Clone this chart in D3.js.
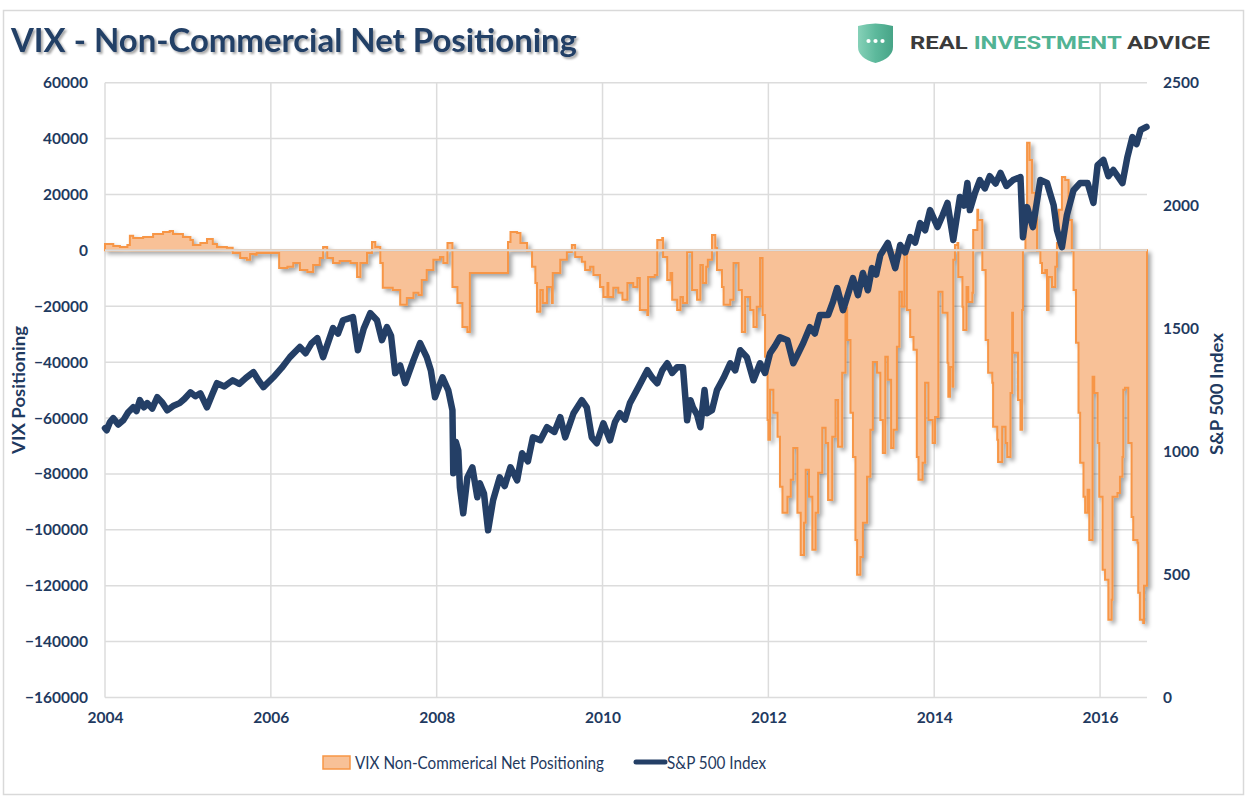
<!DOCTYPE html>
<html><head><meta charset="utf-8">
<script src="https://cdn.jsdelivr.net/npm/d3@7"></script>
<style>
html,body{margin:0;padding:0;background:#fff;}
svg{display:block;}
</style></head>
<body>
<svg id="chart" width="1257" height="802"></svg>
<script>
// ---------- DATA ----------
const yearTicks = [2004, 2006, 2008, 2010, 2012, 2014, 2016];
const leftTicks = [60000, 40000, 20000, 0, -20000, -40000, -60000, -80000, -100000, -120000, -140000, -160000];
const rightTicks = [0, 500, 1000, 1500, 2000, 2500];

const vixDates = [2004.00,2004.10,2004.18,2004.27,2004.30,2004.34,2004.46,2004.58,2004.70,2004.78,2004.82,2004.94,2005.03,2005.06,2005.15,2005.23,2005.30,2005.35,2005.47,2005.54,2005.63,2005.71,2005.75,2005.81,2005.83,2006.07,2006.10,2006.20,2006.27,2006.35,2006.44,2006.51,2006.59,2006.63,2006.68,2006.75,2006.83,2006.96,2007.04,2007.08,2007.16,2007.22,2007.26,2007.32,2007.35,2007.47,2007.56,2007.64,2007.72,2007.78,2007.82,2007.88,2007.96,2008.04,2008.08,2008.13,2008.15,2008.19,2008.25,2008.31,2008.37,2008.40,2008.85,2008.86,2008.89,2008.97,2009.01,2009.09,2009.15,2009.19,2009.21,2009.25,2009.28,2009.33,2009.39,2009.40,2009.49,2009.57,2009.63,2009.67,2009.75,2009.79,2009.85,2009.89,2009.97,2010.01,2010.06,2010.07,2010.13,2010.19,2010.24,2010.30,2010.37,2010.42,2010.45,2010.54,2010.55,2010.63,2010.66,2010.72,2010.73,2010.78,2010.82,2010.84,2010.90,2010.94,2010.97,2011.02,2011.06,2011.08,2011.14,2011.18,2011.21,2011.25,2011.27,2011.32,2011.36,2011.38,2011.44,2011.46,2011.54,2011.58,2011.64,2011.68,2011.72,2011.78,2011.82,2011.86,2011.90,2011.93,2011.96,2011.99,2012.00,2012.02,2012.06,2012.11,2012.14,2012.17,2012.23,2012.27,2012.30,2012.35,2012.39,2012.43,2012.45,2012.49,2012.53,2012.57,2012.60,2012.65,2012.69,2012.72,2012.77,2012.81,2012.84,2012.89,2012.93,2012.95,2012.99,2013.02,2013.05,2013.07,2013.11,2013.14,2013.19,2013.23,2013.26,2013.31,2013.35,2013.38,2013.41,2013.44,2013.48,2013.51,2013.55,2013.58,2013.61,2013.64,2013.67,2013.71,2013.75,2013.79,2013.81,2013.86,2013.89,2013.93,2013.98,2014.01,2014.05,2014.10,2014.16,2014.17,2014.19,2014.22,2014.23,2014.25,2014.28,2014.29,2014.34,2014.35,2014.39,2014.41,2014.46,2014.47,2014.52,2014.53,2014.58,2014.62,2014.65,2014.70,2014.71,2014.76,2014.77,2014.82,2014.86,2014.88,2014.92,2014.94,2014.95,2015.01,2015.04,2015.06,2015.07,2015.10,2015.12,2015.15,2015.18,2015.22,2015.24,2015.28,2015.30,2015.34,2015.36,2015.38,2015.42,2015.46,2015.48,2015.50,2015.54,2015.58,2015.62,2015.66,2015.68,2015.71,2015.74,2015.76,2015.80,2015.82,2015.85,2015.87,2015.91,2015.93,2015.97,2015.99,2016.03,2016.06,2016.10,2016.14,2016.15,2016.21,2016.24,2016.27,2016.28,2016.30,2016.34,2016.38,2016.40,2016.45,2016.46,2016.48,2016.52,2016.53,2016.566];
const vixValues = [2300,1600,1200,1900,5200,4400,4800,5900,6600,6900,5900,4800,3700,1900,2600,4100,2300,1200,900,-900,-2700,-3400,-1300,-1600,-900,-900,-6300,-5900,-4500,-7000,-7700,-5200,-2700,1200,-2700,-4500,-3800,-4500,-9500,-4500,-900,3000,1200,-4500,-13400,-14200,-19500,-17000,-15200,-16000,-10600,-7000,-3400,-2400,-4500,2600,2600,-13100,-18800,-27400,-29200,-8100,-8100,3000,6600,6200,2600,-100,-5900,-11700,-22000,-14200,-18800,-13100,-18800,-8100,-3400,-600,1900,-2400,-4100,-7000,-5900,-8800,-13100,-16700,-11700,-16700,-13400,-15200,-17700,-11700,-13100,-9900,-21300,-23100,-9500,-8800,3700,4400,-2400,-10600,-8100,-17700,-21300,-16700,-18800,-600,-600,-14200,-17700,-5200,-11700,-5900,-3400,5500,900,-7000,-13100,-19500,-17700,-4500,-14200,-29200,-16700,-21300,-27400,-20200,-2700,-23100,-38100,-60700,-67800,-49900,-58100,-66700,-84600,-93900,-88200,-82100,-70700,-93900,-109000,-97500,-78500,-88200,-107100,-93900,-79600,-63500,-68900,-89300,-66700,-53500,-70300,-43800,-20600,-32100,-58100,-73900,-103600,-116100,-109700,-97500,-81000,-64200,-39900,-43800,-60700,-72500,-38100,-46300,-70700,-64200,-34500,-14800,-20200,-900,-21300,-31000,-35600,-73900,-82100,-76000,-47400,-60700,-68900,-59600,-14800,-22300,-40200,-52400,-41700,-48800,-3400,1900,2600,-9500,-20200,-28500,-13100,-18500,-15200,7300,14500,10900,-7000,-32100,-43800,-47400,-63100,-67800,-75700,-63100,-68900,-73900,-51000,-22300,-36600,-53500,-64200,-21300,100,14500,38500,32300,20600,12000,-100,-4500,-8100,-7000,-21300,-9500,-13100,-5900,2600,14500,26300,25200,10900,-200,-14200,-33100,-58100,-76000,-88200,-93900,-85700,-103600,-45200,-51000,-68900,-88200,-114300,-117900,-132200,-125000,-88200,-86800,-81000,-73900,-49900,-49200,-68900,-95400,-103600,-104600,-122500,-132200,-133300,-120000,-112000];

const spxDates = [2004.00,2004.02,2004.06,2004.10,2004.16,2004.22,2004.28,2004.34,2004.38,2004.42,2004.47,2004.51,2004.57,2004.63,2004.69,2004.75,2004.82,2004.90,2004.96,2005.03,2005.09,2005.15,2005.23,2005.29,2005.35,2005.44,2005.54,2005.62,2005.70,2005.79,2005.85,2005.91,2006.03,2006.13,2006.23,2006.35,2006.42,2006.49,2006.56,2006.63,2006.75,2006.81,2006.87,2006.99,2007.05,2007.12,2007.20,2007.28,2007.34,2007.40,2007.45,2007.50,2007.56,2007.62,2007.72,2007.80,2007.88,2007.93,2007.98,2008.07,2008.14,2008.19,2008.20,2008.23,2008.26,2008.28,2008.32,2008.37,2008.43,2008.49,2008.52,2008.57,2008.62,2008.68,2008.76,2008.82,2008.89,2008.97,2009.03,2009.10,2009.16,2009.25,2009.33,2009.42,2009.49,2009.55,2009.65,2009.75,2009.81,2009.87,2009.93,2010.01,2010.09,2010.15,2010.21,2010.27,2010.33,2010.43,2010.54,2010.60,2010.66,2010.72,2010.78,2010.84,2010.90,2010.97,2011.02,2011.06,2011.09,2011.14,2011.18,2011.23,2011.26,2011.32,2011.38,2011.46,2011.54,2011.60,2011.66,2011.74,2011.82,2011.90,2011.96,2012.02,2012.08,2012.14,2012.23,2012.30,2012.36,2012.42,2012.50,2012.56,2012.62,2012.72,2012.78,2012.83,2012.90,2012.96,2013.02,2013.08,2013.14,2013.20,2013.25,2013.30,2013.35,2013.44,2013.53,2013.59,2013.65,2013.71,2013.77,2013.83,2013.89,2013.95,2014.04,2014.10,2014.16,2014.23,2014.31,2014.36,2014.40,2014.43,2014.49,2014.55,2014.61,2014.67,2014.74,2014.80,2014.87,2014.95,2015.04,2015.07,2015.12,2015.19,2015.28,2015.36,2015.44,2015.48,2015.54,2015.60,2015.68,2015.76,2015.85,2015.92,2015.97,2016.04,2016.10,2016.16,2016.27,2016.33,2016.39,2016.44,2016.49,2016.56];
const spxValues = [1095,1087,1120,1136,1110,1127,1160,1180,1165,1209,1180,1197,1175,1221,1200,1168,1185,1197,1215,1241,1225,1237,1180,1230,1278,1265,1290,1275,1300,1323,1290,1262,1302,1340,1384,1425,1400,1440,1461,1384,1502,1480,1534,1547,1412,1500,1563,1534,1453,1506,1470,1319,1350,1278,1372,1441,1384,1330,1221,1302,1249,1168,912,1040,1005,855,749,895,936,814,871,830,680,802,895,860,936,883,993,960,1058,1046,1099,1080,1140,1058,1156,1209,1180,1058,1034,1115,1046,1120,1156,1130,1197,1260,1331,1300,1278,1330,1359,1320,1343,1343,1127,1209,1180,1150,1099,1250,1156,1168,1250,1300,1359,1330,1412,1384,1290,1359,1320,1400,1430,1465,1453,1359,1400,1441,1506,1480,1555,1555,1610,1665,1575,1640,1705,1636,1726,1656,1746,1720,1799,1848,1746,1840,1810,1872,1850,1929,1900,1982,1913,1960,2011,1860,2035,2000,2092,1982,2050,2104,2070,2120,2090,2133,2080,2104,2116,1872,1994,1913,2104,2092,2002,1901,1831,1962,2063,2092,2092,2011,2165,2186,2120,2145,2092,2198,2279,2250,2308,2320];

// ---------- LAYOUT ----------
const svg = d3.select('#chart');
const plot = {left: 105, right: 1147, top: 82.7, bottom: 697.5};
const navy = '#1F3A60';
const FONT = 'Lato, "Open Sans", sans-serif';

const defs = svg.append('defs');
const sh = defs.append('filter').attr('id','areaShadow').attr('x','-5%').attr('y','-5%').attr('width','110%').attr('height','115%');
sh.append('feDropShadow').attr('dx',3).attr('dy',3).attr('stdDeviation',2).attr('flood-color','#000').attr('flood-opacity',0.35);
const tsh = defs.append('filter').attr('id','titleShadow').attr('x','-5%').attr('y','-20%').attr('width','110%').attr('height','150%');
tsh.append('feDropShadow').attr('dx',2).attr('dy',2).attr('stdDeviation',1.2).attr('flood-color','#000').attr('flood-opacity',0.35);
const grad = defs.append('linearGradient').attr('id','shieldGrad').attr('x1','0').attr('x2','1').attr('y1','0').attr('y2','0');
grad.append('stop').attr('offset','0').attr('stop-color','#86D1B8');
grad.append('stop').attr('offset','0.5').attr('stop-color','#5DB99C');
grad.append('stop').attr('offset','1').attr('stop-color','#47A487');

// frame
svg.append('rect').attr('x',3.5).attr('y',10.5).attr('width',1240).attr('height',784)
  .attr('fill','none').attr('stroke','#D9D9D9').attr('stroke-width',1.5);

// scales
const x = d3.scaleLinear().domain([2004, 2016.566]).range([plot.left, plot.right]);
const yL = d3.scaleLinear().domain([-160000, 60000]).range([plot.bottom, plot.top]);
const yR = d3.scaleLinear().domain([0, 2500]).range([plot.bottom, plot.top]);

// gridlines
const grid = svg.append('g');
grid.selectAll('.hg').data(leftTicks).enter().append('line')
  .attr('x1', plot.left).attr('x2', plot.right).attr('y1', d=>yL(d)).attr('y2', d=>yL(d))
  .attr('stroke','#DCDCDC').attr('stroke-width',1.5);
grid.selectAll('.vg').data(yearTicks).enter().append('line')
  .attr('x1', d=>x(d)).attr('x2', d=>x(d)).attr('y1', plot.top).attr('y2', plot.bottom)
  .attr('stroke','#DCDCDC').attr('stroke-width',1.5);

// VIX area
const vix = vixDates.map((d,i)=>({t:d, v:vixValues[i]}));
const area = d3.area().x(d=>x(d.t)).y0(yL(0)).y1(d=>yL(d.v)).curve(d3.curveStepAfter);
svg.append('path').datum(vix).attr('d', area)
  .attr('fill','#F8C197').attr('stroke','#F79646').attr('stroke-width',2)
  .attr('stroke-linejoin','miter').attr('filter','url(#areaShadow)');

// zero axis line on top
svg.append('line').attr('x1',plot.left).attr('x2',plot.right).attr('y1',yL(0)).attr('y2',yL(0))
  .attr('stroke','#DCDCDC').attr('stroke-width',2);

// S&P line
const spx = spxDates.map((d,i)=>({t:d, v:spxValues[i]}));
const line = d3.line().x(d=>x(d.t)).y(d=>yR(d.v)).curve(d3.curveLinear);
svg.append('path').datum(spx).attr('d', line)
  .attr('fill','none').attr('stroke','#243F66').attr('stroke-width',6.5)
  .attr('stroke-linejoin','round').attr('stroke-linecap','round');

// axes
const axL = d3.axisLeft(yL).tickValues(leftTicks).tickSize(0).tickPadding(17).tickFormat(d3.format('d'));
const gL = svg.append('g').attr('transform',`translate(${plot.left},0)`).call(axL);
const axR = d3.axisRight(yR).tickValues(rightTicks).tickSize(0).tickPadding(16).tickFormat(d3.format('d'));
const gR = svg.append('g').attr('transform',`translate(${plot.right},0)`).call(axR);
const axB = d3.axisBottom(x).tickValues(yearTicks).tickSize(0).tickPadding(14).tickFormat(d3.format('d'));
const gB = svg.append('g').attr('transform',`translate(0,${plot.bottom})`).call(axB);
[gL,gR,gB].forEach(g=>{
  g.select('.domain').remove();
  g.selectAll('text').attr('fill',navy).style('font-family',FONT).style('font-size','15.5px').style('font-weight','700');
});

// axis titles
svg.append('text').attr('transform','translate(25,390) rotate(-90)').attr('text-anchor','middle')
  .attr('fill',navy).style('font-family',FONT).style('font-size','16.5px').style('font-weight','700')
  .attr('textLength',128).attr('lengthAdjust','spacingAndGlyphs')
  .text('VIX Positioning');
svg.append('text').attr('transform','translate(1223,394) rotate(-90)').attr('text-anchor','middle')
  .attr('fill',navy).style('font-family',FONT).style('font-size','16.5px').style('font-weight','700')
  .attr('textLength',122).attr('lengthAdjust','spacingAndGlyphs')
  .text('S&P 500 Index');

// title
svg.append('text').attr('x',11).attr('y',52).attr('fill','#243F66')
  .attr('filter','url(#titleShadow)')
  .style('font-family',FONT).style('font-size','32.5px').style('font-weight','700')
  .attr('textLength',566).attr('lengthAdjust','spacingAndGlyphs')
  .text('VIX - Non-Commercial Net Positioning');

// logo
const logo = svg.append('g');
logo.append('path').attr('d','M858,26 Q875.5,21 893,26 L893,47 Q893,58 875.5,63 Q858,58 858,47 Z').attr('fill','url(#shieldGrad)');
[868.5,875.5,882.5].forEach(cx=>logo.append('circle').attr('cx',cx).attr('cy',41).attr('r',2.1).attr('fill','#fff'));
const lt = logo.append('text').attr('x',910).attr('y',49).style('font-family','Roboto, Inter, sans-serif')
  .style('font-size','18px').style('font-weight','700')
  .attr('textLength',300).attr('lengthAdjust','spacingAndGlyphs');
lt.append('tspan').attr('fill','#3B3B3B').text('REAL ');
lt.append('tspan').attr('fill','#52B394').text('INVESTMENT ');
lt.append('tspan').attr('fill','#3B3B3B').text('ADVICE');

// legend
const lg = svg.append('g');
lg.append('rect').attr('x',323).attr('y',756).attr('width',27).attr('height',13)
  .attr('fill','#F8C197').attr('stroke','#F79646').attr('stroke-width',1.5);
lg.append('text').attr('x',355).attr('y',769).attr('fill',navy)
  .style('font-family',FONT).style('font-size','18px').style('font-weight','400')
  .attr('textLength',249).attr('lengthAdjust','spacingAndGlyphs')
  .text('VIX Non-Commerical Net Positioning');
lg.append('line').attr('x1',636).attr('x2',665).attr('y1',762).attr('y2',762)
  .attr('stroke','#243F66').attr('stroke-width',5).attr('stroke-linecap','round');
lg.append('text').attr('x',667).attr('y',769).attr('fill',navy)
  .style('font-family',FONT).style('font-size','18px').style('font-weight','400')
  .attr('textLength',99).attr('lengthAdjust','spacingAndGlyphs')
  .text('S&P 500 Index');
</script>
</body></html>
